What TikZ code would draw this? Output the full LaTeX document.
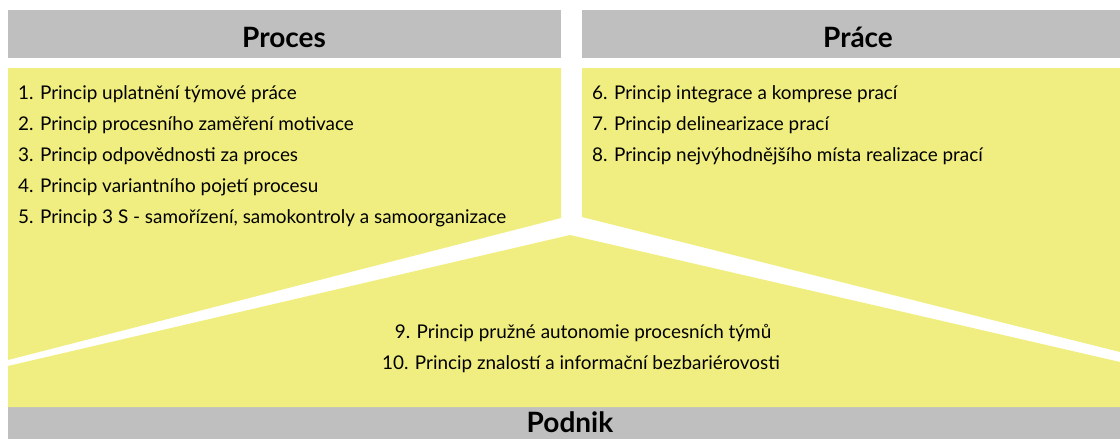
\documentclass[tikz,border=0pt]{standalone}
\usepackage{fontspec}
\setmainfont{Lato}
\usepackage{xcolor}
\usetikzlibrary{positioning}
\definecolor{panel_yellow}{RGB}{240,238,128}
\definecolor{head_gray}{RGB}{191,191,191}
\tikzset{ head_bar/.style = {fill=head_gray, draw=none} }
\tikzset{ panel/.style = {fill=panel_yellow, draw=none} }
\tikzset{ head_text/.style = {anchor=base, inner sep=0pt, font=\fontsize{28}{32}\selectfont\bfseries} }
\tikzset{ item_text/.style = {anchor=base west, inner sep=0pt, font=\fontsize{18.9}{22}\selectfont} }

\begin{document}
\begin{tikzpicture}[x=1pt,y=-1pt]
        \useasboundingbox (0,0) rectangle (1120,439);
        % gray header bars
        \fill[head_bar] (8,10) rectangle (561,58);
        \fill[head_bar] (582,10) rectangle (1120,58);
        \fill[head_bar] (8,407) rectangle (1120,439);
        % yellow panels
        \fill[panel] (8,68) -- (561,68) -- (561,218) -- (8,360) -- cycle;
        \fill[panel] (582,68) -- (1120,68) -- (1120,352) -- (582,217) -- cycle;
        \fill[panel] (8,366) -- (570,235) -- (1120,362) -- (1120,407) -- (8,407) -- cycle;
        % headers
        \node [style=head_text] (proces) at (284,47) {Proces};
        \node [style=head_text] (prace) at (858,47) {Práce};
        \node [style=head_text] (podnik) at (570,432) {Podnik};
        % Proces
        \node [style=item_text] (p1) at (18,99) {1. Princip uplatnění týmové práce};
        \node [style=item_text] (p2) at (18,130) {2. Princip procesního zaměření motivace};
        \node [style=item_text] (p3) at (18,161) {3. Princip odpovědnosti za proces};
        \node [style=item_text] (p4) at (18,192) {4. Princip variantního pojetí procesu};
        \node [style=item_text] (p5) at (18,223) {5. Princip 3 S - samořízení, samokontroly a samoorganizace};
        % Prace
        \node [style=item_text] (p6) at (592,99) {6. Princip integrace a komprese prací};
        \node [style=item_text] (p7) at (592,130) {7. Princip delinearizace prací};
        \node [style=item_text] (p8) at (592,161) {8. Princip nejvýhodnějšího místa realizace prací};
        % Podnik
        \node [style=item_text, anchor=base] (p9) at (583,338) {9. Princip pružné autonomie procesních týmů};
        \node [style=item_text, anchor=base] (p10) at (581,369) {10. Princip znalostí a informační bezbariérovosti};
\end{tikzpicture}
\end{document}
